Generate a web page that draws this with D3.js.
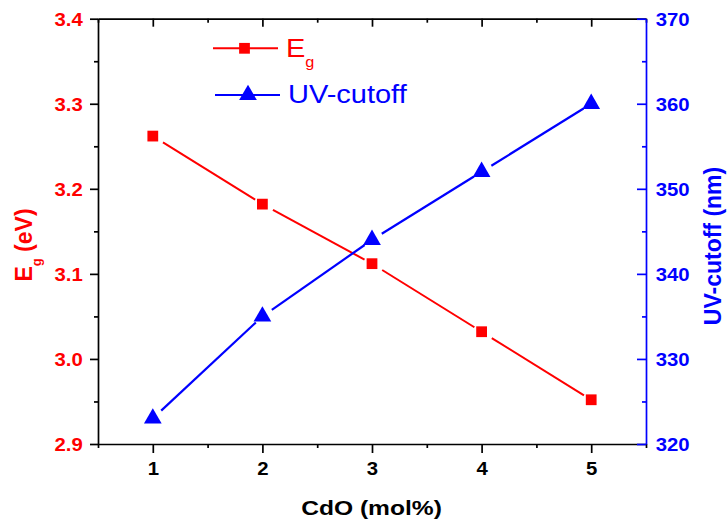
<!DOCTYPE html>
<html>
<head>
<meta charset="utf-8">
<script src="https://cdn.jsdelivr.net/npm/d3@7"></script>
<style>
  html, body { margin: 0; padding: 0; background: #ffffff; }
  svg { display: block; font-family: "Liberation Sans", Arial, Helvetica, sans-serif; }
</style>
</head>
<body>
<svg id="chart" width="728" height="526"></svg>
<script>
// ---- data ----
const cdo = [1, 2, 3, 4, 5];                          // CdO content (mol%)
const bandGap = [3.262, 3.182, 3.112, 3.032, 2.952];  // Eg (eV)
const uvCutoff = [323, 335, 344, 352, 360];           // UV cut-off (nm)

// ---- axes ----
const xTickValues = [1, 2, 3, 4, 5];
const egTickValues = [2.9, 3.0, 3.1, 3.2, 3.3, 3.4];
const uvTickValues = [320, 330, 340, 350, 360, 370];
const xDomain = [0.5, 5.5];
const egDomain = [2.9, 3.4];
const uvDomain = [320, 370];

const RED = "#ff0000";
const BLUE = "#0000ff";
const BLACK = "#000000";
const FONT = "'Liberation Sans', Arial, Helvetica, sans-serif";
const AXIS_W = 1.7;
const TEXT_STRETCH = 1.13;

const svg = d3.select("#chart");
const plotLeft = 98, plotRight = 646, plotTop = 18.7, plotBottom = 444;

const x = d3.scaleLinear().domain(xDomain).range([plotLeft, plotRight]);
const yEg = d3.scaleLinear().domain(egDomain).range([plotBottom, plotTop]);
const yUv = d3.scaleLinear().domain(uvDomain).range([plotBottom, plotTop]);

const midpoints = vals => vals.slice(1).map((v, i) => +((v + vals[i]) / 2).toFixed(4));
const xMinor = [xDomain[0], ...midpoints(xTickValues), xDomain[1]];
const egMinor = midpoints(egTickValues);
const uvMinor = midpoints(uvTickValues);

// widen tick labels horizontally while keeping their anchor point
function stretchText(sel, s) {
  sel.each(function () {
    const t = d3.select(this);
    const xv = +t.attr("x") || 0;
    t.attr("x", xv / s).attr("transform", `scale(${s},1)`);
  });
}

function styleAxis(g, color, textColor) {
  g.attr("font-family", FONT).attr("font-size", 18).attr("font-weight", "bold");
  g.select(".domain").attr("stroke", color).attr("stroke-width", AXIS_W);
  g.selectAll(".tick line").attr("stroke", color).attr("stroke-width", AXIS_W);
  g.selectAll(".tick text").attr("fill", textColor || color);
}

function minorAxis(axis, color) {
  const g = svg.append("g").call(axis);
  g.select(".domain").remove();
  g.selectAll(".tick line").attr("stroke", color).attr("stroke-width", AXIS_W);
  return g;
}

// bottom axis
const gx = svg.append("g")
  .attr("transform", `translate(0,${plotBottom})`)
  .call(d3.axisBottom(x).tickValues(xTickValues).tickFormat(d3.format("d"))
    .tickSize(9).tickSizeOuter(0).tickPadding(9.5));
styleAxis(gx, BLACK);
stretchText(gx.selectAll(".tick text"), TEXT_STRETCH);
minorAxis(d3.axisBottom(x).tickValues(xMinor).tickFormat("").tickSize(4).tickSizeOuter(0), BLACK)
  .attr("transform", `translate(0,${plotBottom})`);

// top axis (inward ticks, no labels)
const gTop = svg.append("g")
  .attr("transform", `translate(0,${plotTop})`)
  .call(d3.axisTop(x).tickValues(xTickValues).tickFormat("").tickSize(-8).tickSizeOuter(0));
styleAxis(gTop, BLACK);
minorAxis(d3.axisTop(x).tickValues(xMinor).tickFormat("").tickSize(-4).tickSizeOuter(0), BLACK)
  .attr("transform", `translate(0,${plotTop})`);

// left axis: band gap
const gLeft = svg.append("g")
  .attr("transform", `translate(${plotLeft},0)`)
  .call(d3.axisLeft(yEg).tickValues(egTickValues).tickFormat(d3.format(".1f"))
    .tickSize(8).tickSizeOuter(0).tickPadding(7.3));
styleAxis(gLeft, BLACK, RED);
gLeft.selectAll(".tick text").attr("dy", "0.35em");
stretchText(gLeft.selectAll(".tick text"), TEXT_STRETCH);
minorAxis(d3.axisLeft(yEg).tickValues(egMinor).tickFormat("").tickSize(4).tickSizeOuter(0), BLACK)
  .attr("transform", `translate(${plotLeft},0)`);

// right axis: UV cut-off (inward ticks)
const gRight = svg.append("g")
  .attr("transform", `translate(${plotRight},0)`)
  .call(d3.axisRight(yUv).tickValues(uvTickValues).tickFormat(d3.format("d"))
    .tickSize(-9).tickSizeOuter(0).tickPadding(9.7));
styleAxis(gRight, BLUE);
gRight.selectAll(".tick text").attr("dy", "0.35em");
stretchText(gRight.selectAll(".tick text"), TEXT_STRETCH);
minorAxis(d3.axisRight(yUv).tickValues(uvMinor).tickFormat("").tickSize(-4).tickSizeOuter(0), BLUE)
  .attr("transform", `translate(${plotRight},0)`);

// ---- series ----
// connecting segments stop short of each marker
function gappedSegments(xs, ys, xScale, yScale, gapStart, gapEnd) {
  const pts = xs.map((v, i) => [xScale(v), yScale(ys[i])]);
  return d3.pairs(pts).map(([a, b]) => {
    const dx = b[0] - a[0], dy = b[1] - a[1], len = Math.hypot(dx, dy);
    const ux = dx / len, uy = dy / len;
    return [[a[0] + ux * gapStart, a[1] + uy * gapStart],
            [b[0] - ux * gapEnd, b[1] - uy * gapEnd]];
  });
}
const line = d3.line();

svg.append("g").selectAll("path")
  .data(gappedSegments(cdo, bandGap, x, yEg, 12, 8.5))
  .join("path")
  .attr("d", line)
  .attr("fill", "none").attr("stroke", RED).attr("stroke-width", 2);

svg.append("g").selectAll("path")
  .data(gappedSegments(cdo, uvCutoff, x, yUv, 11.5, 9))
  .join("path")
  .attr("d", line)
  .attr("fill", "none").attr("stroke", BLUE).attr("stroke-width", 2.2);

const squareSym = d3.symbol(d3.symbolSquare, 116);
const triangleSym = d3.symbol(d3.symbolTriangle, 136);

svg.append("g").selectAll("path")
  .data(cdo.map((c, i) => [c, bandGap[i]]))
  .join("path")
  .attr("transform", d => `translate(${x(d[0])},${yEg(d[1])})`)
  .attr("d", squareSym)
  .attr("fill", RED);

svg.append("g").selectAll("path")
  .data(cdo.map((c, i) => [c, uvCutoff[i]]))
  .join("path")
  .attr("transform", d => `translate(${x(d[0])},${yUv(d[1])})`)
  .attr("d", triangleSym)
  .attr("fill", BLUE);

// ---- legend ----
const LEGEND_STRETCH = 1.16;
const legend = svg.append("g").attr("font-family", FONT);
legend.append("line").attr("x1", 213).attr("x2", 278).attr("y1", 48.3).attr("y2", 48.3)
  .attr("stroke", RED).attr("stroke-width", 2);
legend.append("path").attr("transform", "translate(244.5,48.3)").attr("d", squareSym).attr("fill", RED);
const egLegend = legend.append("text")
  .attr("transform", `translate(286,56.7) scale(${LEGEND_STRETCH},1)`)
  .attr("font-size", 25).attr("fill", RED).text("E");
egLegend.append("tspan").attr("font-size", 14).attr("dy", 10).text("g");

legend.append("line").attr("x1", 215).attr("x2", 280).attr("y1", 95).attr("y2", 95)
  .attr("stroke", BLUE).attr("stroke-width", 2.2);
legend.append("path").attr("transform", "translate(248,95)").attr("d", triangleSym).attr("fill", BLUE);
legend.append("text")
  .attr("transform", `translate(288,103) scale(${LEGEND_STRETCH},1)`)
  .attr("font-size", 25).attr("fill", BLUE).text("UV-cutoff");

// ---- axis titles ----
svg.append("text")
  .attr("transform", `translate(371.5,514.5) scale(1.2,1)`)
  .attr("text-anchor", "middle")
  .attr("font-family", FONT).attr("font-size", 20.5).attr("font-weight", "bold")
  .attr("fill", BLACK)
  .text("CdO (mol%)");

const egTitle = svg.append("text")
  .attr("transform", `translate(32.3,245) rotate(-90)`)
  .attr("text-anchor", "middle")
  .attr("font-family", FONT).attr("font-size", 23).attr("font-weight", "bold")
  .attr("fill", RED)
  .text("E");
egTitle.append("tspan").attr("font-size", 13).attr("dy", 9).text("g");
egTitle.append("tspan").attr("dy", -9).text(" (eV)");

svg.append("text")
  .attr("transform", `translate(720.7,246) rotate(-90)`)
  .attr("text-anchor", "middle")
  .attr("font-family", FONT).attr("font-size", 23).attr("font-weight", "bold")
  .attr("fill", BLUE)
  .text("UV-cutoff (nm)");
</script>
</body>
</html>
